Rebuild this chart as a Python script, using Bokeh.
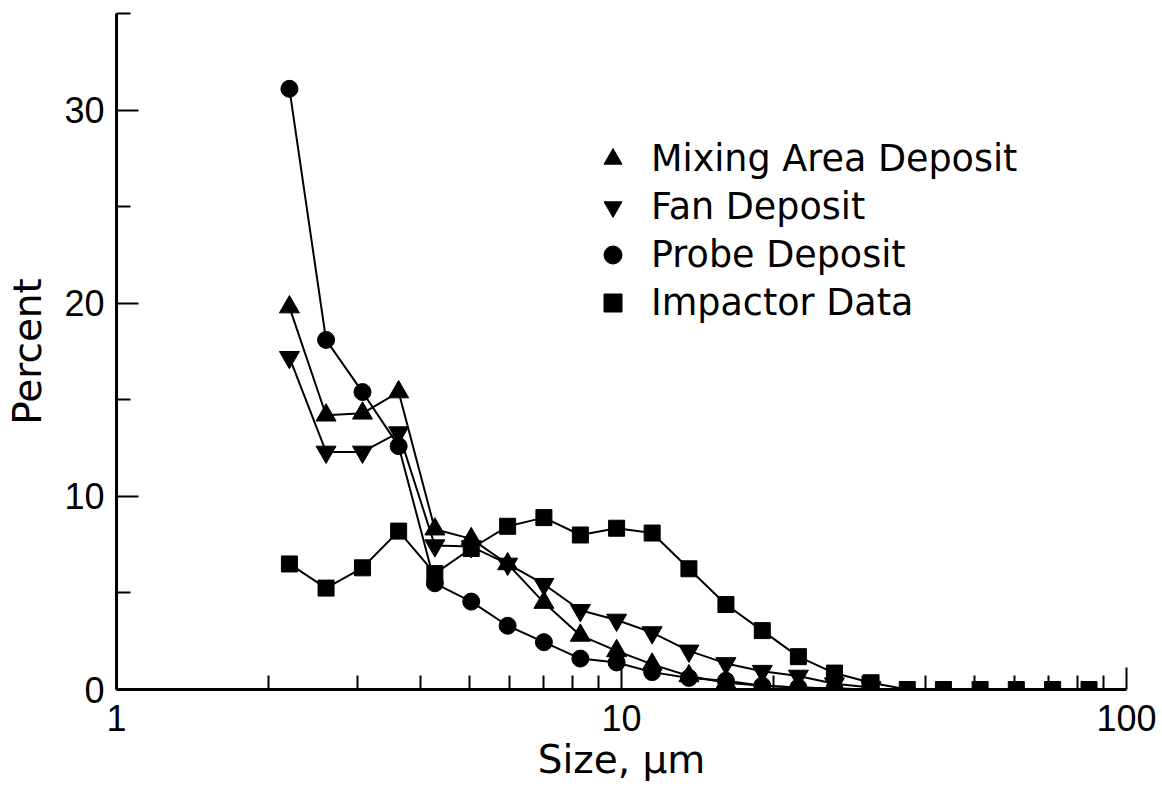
from bokeh.plotting import figure
from bokeh.models import Range1d, FixedTicker, BasicTickFormatter, Legend, LegendItem
from bokeh.embed import file_html
from bokeh.resources import INLINE

# Particle size (um) of the size classes
size_um = [2.20, 2.60, 3.07, 3.62, 4.27, 5.04, 5.95, 7.02, 8.29, 9.78, 11.5,
           13.6, 16.1, 19.0, 22.4, 26.4, 31.2, 36.8, 43.4, 51.3, 60.5, 71.4, 84.3]

# Percent in each size class
mixing_area = [19.8, 14.2, 14.3, 15.4, 8.3, 7.8, 6.5, 4.5, 2.8, 2.0, 1.3,
               0.7, 0.35, 0.2, 0.1, 0.05, 0.0]
fan_deposit = [17.2, 12.3, 12.3, 13.3, 7.45, 7.4, 6.5, 5.45, 4.1, 3.6, 2.95,
               2.0, 1.35, 0.95, 0.7, 0.3, 0.1]
probe_deposit = [31.1, 18.1, 15.4, 12.6, 5.5, 4.55, 3.3, 2.45, 1.6, 1.4, 0.9,
                 0.6, 0.45, 0.2, 0.1, 0.05, 0.0]
impactor = [6.5, 5.25, 6.3, 8.2, 6.0, 7.3, 8.45, 8.9, 8.0, 8.35, 8.1,
            6.25, 4.4, 3.05, 1.7, 0.85, 0.35, 0.0, 0.0, 0.0, 0.0, 0.0, 0.0]

labels = ["Mixing Area Deposit", "Fan Deposit", "Probe Deposit", "Impactor Data"]
x_ticks = [1, 10, 100]
x_minor = [2, 3, 4, 5, 6, 7, 8, 9, 20, 30, 40, 50, 60, 70, 80, 90]
y_ticks = [0, 10, 20, 30]
y_minor = [5, 15, 25, 35]

TICK_FONT = "Liberation Sans"
TEXT_FONT = "DejaVu Sans"

p = figure(width=1160, height=784, x_axis_type="log",
           x_range=Range1d(1, 100), y_range=Range1d(0, 35),
           output_backend="svg", toolbar_location=None,
           min_border_left=116, min_border_right=34,
           min_border_top=13, min_border_bottom=95,
           x_axis_label="Size, µm", y_axis_label="Percent")
p.xgrid.visible = False
p.ygrid.visible = False
p.outline_line_color = None
p.background_fill_color = "white"
p.border_fill_color = "white"

xa = p.xaxis[0]
ya = p.yaxis[0]
xa.ticker = FixedTicker(ticks=x_ticks, minor_ticks=x_minor)
xa.formatter = BasicTickFormatter()
ya.ticker = FixedTicker(ticks=y_ticks, minor_ticks=y_minor)

for ax in (xa, ya):
    ax.axis_line_width = 3
    ax.axis_line_color = "black"
    ax.major_tick_line_width = 2
    ax.minor_tick_line_width = 2
    ax.major_tick_line_color = "black"
    ax.minor_tick_line_color = "black"
    ax.major_tick_in = 22
    ax.major_tick_out = 0
    ax.minor_tick_in = 14
    ax.minor_tick_out = 0
    ax.major_label_text_font = TICK_FONT
    ax.major_label_text_font_size = "36px"
    ax.major_label_text_color = "black"
    ax.axis_label_text_font = TEXT_FONT
    ax.axis_label_text_font_size = "39px"
    ax.axis_label_text_font_style = "normal"
    ax.axis_label_text_color = "black"

ya.major_label_standoff = 12
ya.axis_label_standoff = 11
xa.major_label_standoff = 15
xa.axis_label_standoff = 3

series = [
    (mixing_area, "triangle", 20),
    (fan_deposit, "inverted_triangle", 20),
    (probe_deposit, "circle", 17),
    (impactor, "square", 16),
]

items = []
for (vals, marker, sz), lab in zip(series, labels):
    xs = size_um[:len(vals)]
    p.line(xs, vals, line_color="black", line_width=2)
    r = p.scatter(xs, vals, marker=marker, size=sz,
                  fill_color="black", line_color="black")
    items.append(LegendItem(label=lab, renderers=[r]))

legend = Legend(items=items, location=(474, 364),
                glyph_width=45, glyph_height=45, label_height=45,
                spacing=3, label_standoff=16, padding=0, margin=0,
                border_line_color=None, background_fill_alpha=0,
                label_text_font=TEXT_FONT, label_text_font_size="36.5px",
                label_text_color="black")
p.add_layout(legend)

open("out.html", "w").write(file_html(p, INLINE))
